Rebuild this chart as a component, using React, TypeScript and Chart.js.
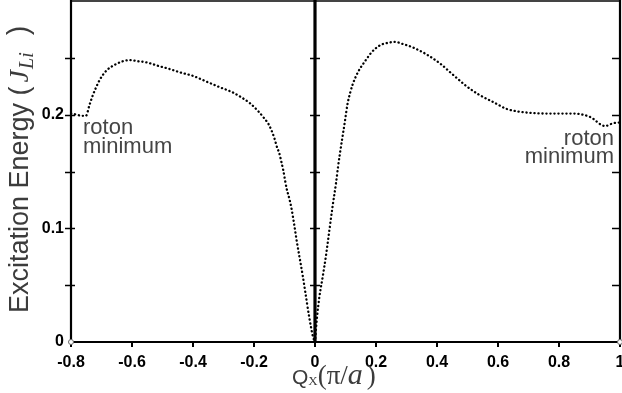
import React, { useEffect, useRef } from 'react';
import { Chart, registerables } from 'chart.js';

Chart.register(...registerables);

// ---- data ----
const leftBranchQ = [
  -0.8, -0.781, -0.765, -0.751, -0.74, -0.73, -0.721, -0.705, -0.683, -0.656, -0.63, -0.607,
  -0.58, -0.552, -0.515, -0.475, -0.44, -0.399, -0.355, -0.311, -0.273, -0.24, -0.213, -0.186,
  -0.164, -0.153, -0.144, -0.134, -0.124, -0.117, -0.109, -0.104, -0.098, -0.093, -0.084,
  -0.076, -0.068, -0.06, -0.049, -0.04, -0.033, -0.019, -0.006, 0,
];
const leftBranchE = [
  0.201, 0.2, 0.199, 0.199, 0.208, 0.216, 0.222, 0.231, 0.239, 0.244, 0.247, 0.248,
  0.247, 0.246, 0.243, 0.24, 0.237, 0.234, 0.229, 0.224, 0.22, 0.215, 0.21, 0.203,
  0.196, 0.192, 0.187, 0.18, 0.171, 0.166, 0.157, 0.151, 0.142, 0.135, 0.126,
  0.116, 0.103, 0.089, 0.072, 0.058, 0.046, 0.022, 0.004, 0,
];
const rightBranchQ = [
  0, 0.006, 0.014, 0.025, 0.036, 0.047, 0.058, 0.069, 0.076, 0.083, 0.098, 0.107, 0.115,
  0.124, 0.142, 0.164, 0.186, 0.213, 0.235, 0.262, 0.29, 0.322, 0.366, 0.41, 0.453, 0.497,
  0.535, 0.585, 0.629, 0.661, 0.76, 0.847, 0.902, 0.951, 0.973, 0.989, 1.0,
];
const rightBranchE = [
  0, 0.02, 0.039, 0.057, 0.076, 0.098, 0.12, 0.14, 0.155, 0.168, 0.194, 0.21, 0.219,
  0.227, 0.238, 0.247, 0.255, 0.261, 0.263, 0.264, 0.262, 0.259, 0.253, 0.245, 0.235, 0.225,
  0.218, 0.211, 0.205, 0.203, 0.201, 0.201, 0.198, 0.19, 0.192, 0.193, 0.193,
];
const cornerQ = [-0.8, 1];
const cornerE = [0, 0];

const xTickValues = [-0.8, -0.6, -0.4, -0.2, 0, 0.2, 0.4, 0.6, 0.8, 1];
const xTickLabels = ['-0.8', '-0.6', '-0.4', '-0.2', '0', '0.2', '0.4', '0.6', '0.8', '1'];
const yTickValues = [0, 0.05, 0.1, 0.15, 0.2, 0.25, 0.3];
const yTickLabels = ['0', '', '0.1', '', '0.2', '', ''];
const annotationLines = ['roton', 'minimum'];

const W = 622;
const H = 393;

const axesPlugin = {
  id: 'axesPlugin',
  beforeDatasetsDraw(chart: any) {
    const { ctx, chartArea: a, scales } = chart;
    const xs = scales.x;
    const ys = scales.y;
    ctx.save();
    // top frame
    ctx.strokeStyle = '#444';
    ctx.lineWidth = 2;
    ctx.beginPath();
    ctx.moveTo(a.left, 1);
    ctx.lineTo(a.right, 1);
    ctx.stroke();
    ctx.strokeStyle = '#000';
    // left + right axes
    ctx.lineWidth = 2.2;
    ctx.beginPath();
    ctx.moveTo(a.left, 0);
    ctx.lineTo(a.left, a.bottom);
    ctx.moveTo(a.right, 0);
    ctx.lineTo(a.right, a.bottom);
    ctx.stroke();
    // bottom axis
    ctx.beginPath();
    ctx.moveTo(a.left, a.bottom);
    ctx.lineTo(a.right, a.bottom);
    ctx.stroke();
    // middle axis at Q = 0
    const zx = xs.getPixelForValue(0);
    ctx.lineWidth = 3.2;
    ctx.beginPath();
    ctx.moveTo(zx, 0);
    ctx.lineTo(zx, a.bottom);
    ctx.stroke();
    // y ticks
    ctx.lineWidth = 1.6;
    ctx.beginPath();
    yTickValues.forEach((v) => {
      if (v <= 0 || v >= 0.3) return;
      const py = Math.round(ys.getPixelForValue(v)) + 0.5;
      ctx.moveTo(a.left - 6, py);
      ctx.lineTo(a.left + 4, py);
      ctx.moveTo(zx - 5, py);
      ctx.lineTo(zx + 5, py);
      ctx.moveTo(a.right - 8, py);
      ctx.lineTo(a.right, py);
    });
    ctx.stroke();
    // x ticks
    ctx.lineWidth = 2;
    ctx.beginPath();
    xTickValues.forEach((v) => {
      const px = xs.getPixelForValue(v);
      ctx.moveTo(px, a.bottom);
      ctx.lineTo(px, a.bottom + 5);
    });
    ctx.stroke();
    ctx.restore();
  },
  afterDraw(chart: any) {
    const { ctx, scales } = chart;
    const xs = scales.x;
    ctx.save();
    // y axis title (rotated)
    ctx.fillStyle = '#3c3c3c';
    ctx.translate(28, 313);
    ctx.rotate(-Math.PI / 2);
    ctx.textAlign = 'left';
    ctx.textBaseline = 'alphabetic';
    let cx = 0;
    ctx.font = '27px "Liberation Sans", Arial, sans-serif';
    const t1 = 'Excitation Energy (';
    ctx.fillText(t1, cx, 0);
    cx += ctx.measureText(t1).width + 4;
    ctx.font = 'italic 28px "Liberation Serif", serif';
    ctx.fillText('J', cx, 0);
    cx += ctx.measureText('J').width + 1;
    ctx.font = 'italic 20px "Liberation Serif", serif';
    ctx.fillText('Li', cx, 5);
    cx += ctx.measureText('Li').width;
    ctx.font = '29px "Liberation Sans", Arial, sans-serif';
    ctx.fillText(')', cx + 17, 0);
    ctx.restore();

    // x axis title
    ctx.save();
    ctx.fillStyle = '#3c3c3c';
    ctx.textAlign = 'left';
    ctx.textBaseline = 'alphabetic';
    let qx = 292;
    const base = 384;
    ctx.font = '21px "Liberation Sans", Arial, sans-serif';
    ctx.fillText('Q', qx, base);
    qx += ctx.measureText('Q').width;
    ctx.font = '13px "Liberation Serif", serif';
    ctx.fillText('X', qx, base + 1);
    qx += ctx.measureText('X').width;
    ctx.font = '27px "Liberation Serif", serif';
    ctx.fillText('(', qx, base);
    qx += ctx.measureText('(').width;
    ctx.fillText('\u03c0', qx, base);
    qx += ctx.measureText('\u03c0').width;
    ctx.fillText('/', qx, base);
    qx += ctx.measureText('/').width;
    ctx.font = 'italic 30px "Liberation Serif", serif';
    ctx.fillText('a', qx, base);
    qx += ctx.measureText('a').width + 4;
    ctx.font = '27px "Liberation Serif", serif';
    ctx.fillText(')', qx, base);
    ctx.restore();

    // annotations
    ctx.save();
    ctx.fillStyle = '#454545';
    ctx.font = '22px "Liberation Sans", Arial, sans-serif';
    ctx.textBaseline = 'alphabetic';
    ctx.textAlign = 'left';
    const lx = xs.getPixelForValue(-0.8) + 12;
    ctx.fillText(annotationLines[0], lx, 134);
    ctx.fillText(annotationLines[1], lx, 153);
    ctx.textAlign = 'right';
    const rx = xs.getPixelForValue(1) - 6;
    ctx.fillText(annotationLines[0], rx, 145);
    ctx.fillText(annotationLines[1], rx, 163);
    ctx.restore();
  },
};

export default function App() {
  const ref = useRef<HTMLCanvasElement>(null);
  useEffect(() => {
    if (!ref.current) return;
    const dotted = {
      showLine: true,
      borderColor: '#000',
      borderWidth: 2.3,
      borderDash: [0.2, 3.8],
      borderCapStyle: 'round',
      pointRadius: 0,
      cubicInterpolationMode: 'monotone',
      fill: false,
    };
    const chart = new Chart(ref.current, {
      type: 'line',
      data: {
        datasets: [
          {
            ...dotted,
            label: 'left',
            data: leftBranchQ.map((q, i) => ({ x: q, y: leftBranchE[i] })),
          } as any,
          {
            ...dotted,
            label: 'right',
            data: rightBranchQ.map((q, i) => ({ x: q, y: rightBranchE[i] })),
          } as any,
          {
            label: 'corners',
            data: cornerQ.map((q, i) => ({ x: q, y: cornerE[i] })),
            showLine: false,
            pointRadius: 2.5,
            pointBackgroundColor: '#fff',
            pointBorderColor: '#666',
            pointBorderWidth: 1,
            clip: false,
          } as any,
        ],
      },
      options: {
        responsive: false,
        animation: false,
        events: [],
        layout: { autoPadding: false, padding: { left: 0, right: 2, top: 1, bottom: 0 } },
        plugins: { legend: { display: false }, tooltip: { enabled: false } },
        scales: {
          x: {
            type: 'linear',
            min: -0.8,
            max: 1,
            border: { display: false },
            grid: { display: false, drawTicks: false },
            afterBuildTicks: (s: any) => {
              s.ticks = xTickValues.map((v) => ({ value: v }));
            },
            afterFit: (s: any) => {
              s.height = 51;
              s.paddingLeft = 0;
              s.paddingRight = 0;
            },
            ticks: {
              autoSkip: false,
              maxRotation: 0,
              padding: 11,
              color: '#000',
              font: { family: '"Liberation Sans", Arial, sans-serif', weight: 'bold', size: 16 },
              callback: (_v: any, i: number) => xTickLabels[i],
            },
          },
          y: {
            type: 'linear',
            min: 0,
            max: 0.3,
            border: { display: false },
            grid: { display: false, drawTicks: false },
            afterBuildTicks: (s: any) => {
              s.ticks = yTickValues.map((v) => ({ value: v }));
            },
            afterFit: (s: any) => {
              s.width = 71;
              s.paddingTop = 0;
              s.paddingBottom = 0;
            },
            ticks: {
              autoSkip: false,
              padding: 7,
              color: '#000',
              font: { family: '"Liberation Sans", Arial, sans-serif', weight: 'bold', size: 16 },
              callback: (_v: any, i: number) => yTickLabels[i],
            },
          },
        },
      } as any,
      plugins: [axesPlugin],
    });
    return () => chart.destroy();
  }, []);
  return (
    <div style={{ position: 'absolute', left: 0, top: 0, width: W, height: H, background: '#fff' }}>
      <canvas ref={ref} width={W} height={H} style={{ display: 'block' }} />
    </div>
  );
}
